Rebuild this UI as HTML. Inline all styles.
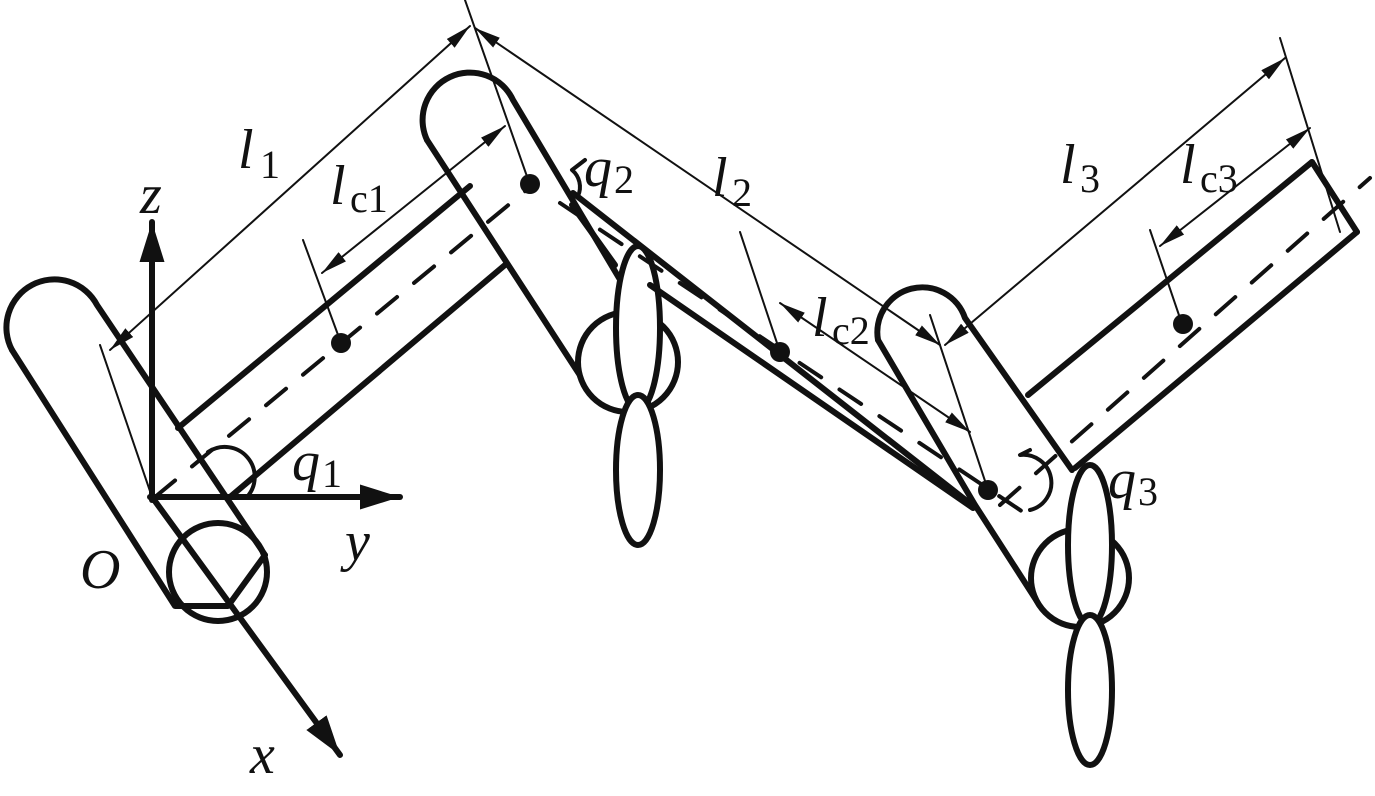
<!DOCTYPE html>
<html><head><meta charset="utf-8"><style>
html,body{margin:0;padding:0;background:#fff;}
svg{display:block;}
text{font-family:"Liberation Serif",serif;font-style:italic;fill:#111;}
text.s{font-style:normal;font-size:40px;}
</style></head><body>
<svg width="1375" height="796" viewBox="0 0 1375 796" xmlns="http://www.w3.org/2000/svg">
<defs>
<marker id="a" viewBox="0 0 22 10" refX="22" refY="5" markerWidth="26" markerHeight="12" markerUnits="userSpaceOnUse" orient="auto-start-reverse"><path d="M0,0 L22,5 L0,10 z" fill="#111"/></marker>
<marker id="b" viewBox="0 0 16 10" refX="16" refY="5" markerWidth="40" markerHeight="25" markerUnits="userSpaceOnUse" orient="auto"><path d="M0,0 L16,5 L0,10 z" fill="#111"/></marker>
</defs>
<g fill="none" stroke="#111" stroke-linecap="round" stroke-linejoin="round">
<g stroke-width="6">
<path d="M12,350 A48,48 0 0 1 97,305 L265,555"/>
<path d="M12,350 L175,606 L228,606 L265,555"/>
<circle cx="218" cy="572" r="49" fill="none"/>
<line x1="178" y1="428" x2="470" y2="186"/>
<line x1="230" y1="497" x2="505" y2="265"/>
<path d="M427,140 A45,45 0 0 1 513,100 L650,330"/>
<path d="M427,140 L583,380 L597,395 L640,395"/>
<circle cx="628" cy="362" r="50" fill="#fff"/>
<ellipse cx="638" cy="328" rx="22" ry="82" fill="#fff"/>
<ellipse cx="638" cy="470" rx="22" ry="75" fill="#fff"/>
<line x1="573" y1="193" x2="972" y2="505"/>
<line x1="650" y1="285" x2="973" y2="508"/>
<line x1="572" y1="205" x2="615" y2="265"/>
<path d="M878,340 A45,45 0 0 1 965,318 L1072,470"/>
<path d="M878,340 L975,505 L1040,606 L1090,606"/>
<line x1="1028" y1="395" x2="1312" y2="162"/>
<line x1="1312" y1="162" x2="1357" y2="232"/>
<line x1="1357" y1="232" x2="1075" y2="468"/>
<circle cx="1080" cy="578" r="49" fill="#fff"/>
<ellipse cx="1090" cy="545" rx="22" ry="80" fill="#fff"/>
<ellipse cx="1090" cy="690" rx="22" ry="75" fill="#fff"/>
</g>
<g stroke-width="4" stroke-dasharray="26,22">
<line x1="155" y1="497" x2="535" y2="183"/>
<line x1="560" y1="203" x2="1035" y2="520"/>
<line x1="1000" y1="505" x2="1370" y2="178"/>
</g>
<g stroke-width="6">
<line x1="152" y1="500" x2="152" y2="222" marker-end="url(#b)"/>
<line x1="150" y1="497" x2="400" y2="497" marker-end="url(#b)"/>
<line x1="152" y1="497" x2="340" y2="755" marker-end="url(#b)"/>
</g>
<g stroke-width="4">
<path d="M208,452 A30,30 0 0 1 247,497"/>
<path d="M585,160 L572,170 A22,22 0 0 1 578,196"/>
<path d="M1030,450 L1020,455 A28,28 0 0 1 1030,510"/>
</g>
<g stroke-width="2">
<line x1="110" y1="350" x2="470" y2="26" marker-start="url(#a)" marker-end="url(#a)"/>
<line x1="100" y1="345" x2="152" y2="497"/>
<line x1="465" y1="0" x2="530" y2="185"/>
<line x1="322" y1="273" x2="505" y2="126" marker-start="url(#a)" marker-end="url(#a)"/>
<line x1="303" y1="240" x2="341" y2="343"/>
<line x1="475" y1="28" x2="940" y2="345" marker-start="url(#a)" marker-end="url(#a)"/>
<line x1="930" y1="315" x2="988" y2="490"/>
<line x1="780" y1="303" x2="970" y2="432" marker-start="url(#a)" marker-end="url(#a)"/>
<line x1="740" y1="232" x2="780" y2="352"/>
<line x1="945" y1="345" x2="1285" y2="58" marker-start="url(#a)" marker-end="url(#a)"/>
<line x1="1280" y1="38" x2="1340" y2="232"/>
<line x1="1160" y1="246" x2="1310" y2="128" marker-start="url(#a)" marker-end="url(#a)"/>
<line x1="1150" y1="230" x2="1182" y2="324"/>
</g>
</g>
<g fill="#111">
<circle cx="341" cy="343" r="10"/>
<circle cx="530" cy="184" r="10"/>
<circle cx="780" cy="352" r="10"/>
<circle cx="988" cy="490" r="10"/>
<circle cx="1183" cy="324" r="10"/>
</g>
<g font-size="56">
<text x="238" y="168">l</text><text class="s" x="260" y="178">1</text>
<text x="330" y="204">l</text><text class="s" x="350" y="212">c1</text>
<text x="712" y="196">l</text><text class="s" x="732" y="206">2</text>
<text x="812" y="336">l</text><text class="s" x="832" y="344">c2</text>
<text x="1060" y="183">l</text><text class="s" x="1080" y="192">3</text>
<text x="1180" y="183">l</text><text class="s" x="1200" y="192">c3</text>
<text x="292" y="480">q</text><text class="s" x="322" y="487">1</text>
<text x="584" y="186">q</text><text class="s" x="614" y="193">2</text>
<text x="1108" y="498">q</text><text class="s" x="1138" y="505">3</text>
<text x="140" y="213">z</text>
<text x="345" y="560">y</text>
<text x="250" y="773">x</text>
<text x="80" y="588">O</text>
</g>
</svg>
</body></html>
